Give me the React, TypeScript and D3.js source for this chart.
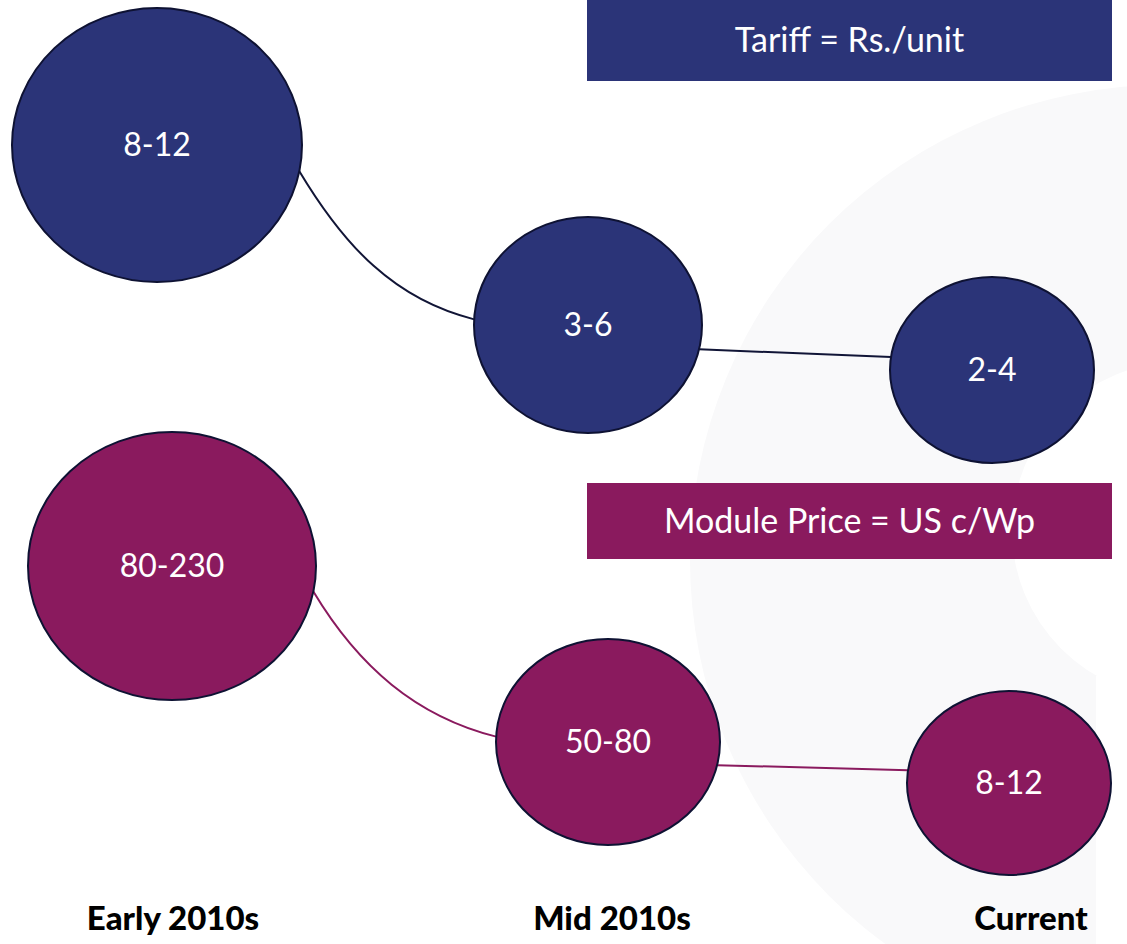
import React, { useRef, useEffect } from "react";
import * as d3 from "d3";

const width = 1127;
const height = 944;

// periods on the x axis
const stages = ["Early 2010s", "Mid 2010s", "Current"];
// tariff ranges, Rs./unit
const tariffLabels = ["8-12", "3-6", "2-4"];
// module price ranges, US c/Wp
const moduleLabels = ["80-230", "50-80", "8-12"];

const tariffTitle = "Tariff = Rs./unit";
const moduleTitle = "Module Price = US c/Wp";

const navy = "#2b3478";
const plum = "#8a1a5e";
const edge = "#0e1233";

const rows = [
    {
        labels: tariffLabels,
        title: tariffTitle,
        fill: navy,
        line: "#111536",
        x: d3.scaleOrdinal<string, number>().domain(stages).range([157, 588, 992]),
        y: d3.scaleOrdinal<string, number>().domain(stages).range([145, 325, 370]),
        rx: d3.scaleOrdinal<string, number>().domain(stages).range([145, 114, 102]),
        ry: d3.scaleOrdinal<string, number>().domain(stages).range([137, 108, 93]),
        box: { x: 587, y: 0, h: 81 },
    },
    {
        labels: moduleLabels,
        title: moduleTitle,
        fill: plum,
        line: plum,
        x: d3.scaleOrdinal<string, number>().domain(stages).range([172, 608, 1009]),
        y: d3.scaleOrdinal<string, number>().domain(stages).range([566, 742, 783]),
        rx: d3.scaleOrdinal<string, number>().domain(stages).range([144, 112, 102]),
        ry: d3.scaleOrdinal<string, number>().domain(stages).range([134, 103, 92]),
        box: { x: 587, y: 483, h: 76 },
    },
];

const labelX = d3.scaleOrdinal<string, number>().domain(stages).range([173, 612, 1031]);

const App = () => {
    const canvas = useRef<HTMLDivElement>(null);

    useEffect(() => {
        const root = d3.select(canvas.current);
        root.selectAll("*").remove();

        const svg = root
            .append("svg")
            .attr("width", width)
            .attr("height", height)
            .style("display", "block");

        svg.append("rect").attr("width", width).attr("height", height).attr("fill", "#fff");

        // faint watermark ring in the background
        const ring = d3.path();
        ring.arc(1165, 560, 475, 0, Math.PI * 2);
        ring.moveTo(1180 + 168, 530);
        ring.arc(1180, 530, 168, 0, Math.PI * 2, true);
        svg.append("path")
            .attr("d", ring.toString())
            .attr("fill", "#f9f9fa")
            .attr("fill-rule", "evenodd");
        svg.append("rect")
            .attr("x", 1096)
            .attr("y", 676)
            .attr("width", width - 1096)
            .attr("height", height - 676)
            .attr("fill", "#fff");

        const onEllipse = (r, s: string, deg: number) => {
            const a = (deg * Math.PI) / 180;
            return [r.x(s) + r.rx(s) * Math.cos(a), r.y(s) + r.ry(s) * Math.sin(a)];
        };

        rows.forEach((r) => {
            // header box
            svg.append("rect")
                .attr("x", r.box.x)
                .attr("y", r.box.y)
                .attr("width", 1112 - r.box.x)
                .attr("height", r.box.h)
                .attr("fill", r.fill);
            svg.append("text")
                .attr("x", (r.box.x + 1112) / 2)
                .attr("y", r.box.y + r.box.h / 2)
                .attr("dy", "0.35em")
                .attr("text-anchor", "middle")
                .attr("fill", "#fff")
                .attr("font-family", "Lato, sans-serif")
                .attr("font-size", 34)
                .text(r.title);

            // connectors
            const [x0, y0] = onEllipse(r, stages[0], 11);
            const [x1, y1] = onEllipse(r, stages[1], 183);
            const p1 = d3.path();
            p1.moveTo(x0, y0);
            p1.bezierCurveTo(x0 + 45, y0 + 75, x1 - 80, y1 - 20, x1, y1);

            const [x2, y2] = onEllipse(r, stages[1], 13);
            const [x3, y3] = onEllipse(r, stages[2], 188);
            const p2 = d3.path();
            p2.moveTo(x2, y2);
            p2.lineTo(x3, y3);

            svg.selectAll(null)
                .data([p1.toString(), p2.toString()])
                .enter()
                .append("path")
                .attr("d", (d) => d)
                .attr("fill", "none")
                .attr("stroke", r.line)
                .attr("stroke-width", 2);

            const g = svg.append("g");
            g.selectAll("ellipse")
                .data(stages)
                .enter()
                .append("ellipse")
                .attr("cx", (d) => r.x(d))
                .attr("cy", (d) => r.y(d))
                .attr("rx", (d) => r.rx(d))
                .attr("ry", (d) => r.ry(d))
                .attr("fill", r.fill)
                .attr("stroke", edge)
                .attr("stroke-width", 2);

            g.selectAll("text")
                .data(stages)
                .enter()
                .append("text")
                .attr("x", (d) => r.x(d))
                .attr("y", (d) => r.y(d))
                .attr("dy", "0.35em")
                .attr("text-anchor", "middle")
                .attr("fill", "#fff")
                .attr("font-family", "Lato, sans-serif")
                .attr("font-size", 32)
                .text((d, i) => r.labels[i]);
        });

        // period labels
        svg.selectAll("text.stage")
            .data(stages)
            .enter()
            .append("text")
            .attr("class", "stage")
            .attr("x", (d) => labelX(d))
            .attr("y", 930)
            .attr("text-anchor", "middle")
            .attr("fill", "#000")
            .attr("font-family", "Lato, sans-serif")
            .attr("font-weight", 900)
            .attr("font-size", 33)
            .text((d) => d);
    }, []);

    return <div ref={canvas} style={{ position: "absolute", left: 0, top: 0 }}></div>;
};

export default App;
